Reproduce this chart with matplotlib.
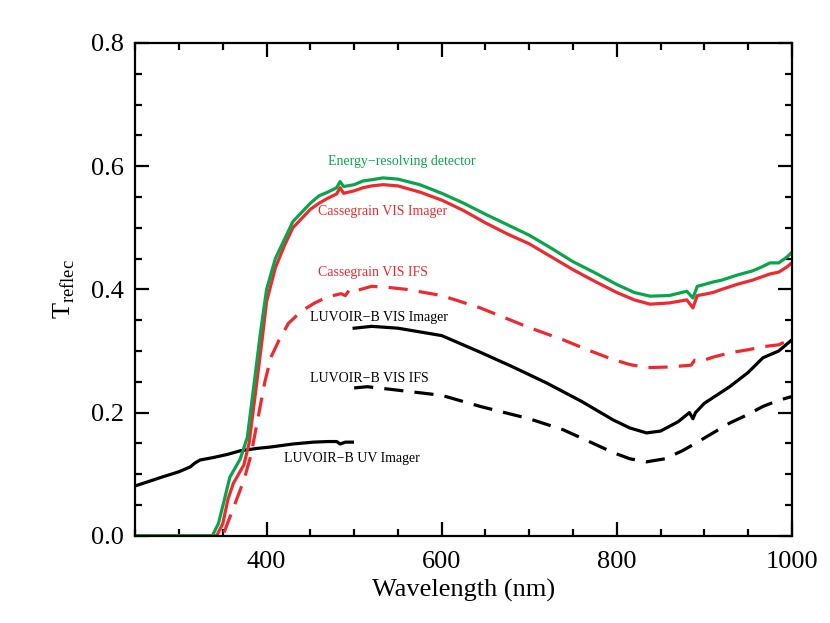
import numpy as np
import matplotlib
matplotlib.use("Agg")
import matplotlib.pyplot as plt
from matplotlib.ticker import MultipleLocator

# ==============Plotting settings==================
plt.rcParams['font.family'] = ['Liberation Serif', 'DejaVu Serif']
plt.rcParams['mathtext.fontset'] = 'custom'
plt.rcParams['mathtext.rm'] = 'Liberation Serif'
plt.rcParams['xtick.direction'] = 'in'
plt.rcParams['ytick.direction'] = 'in'
plt.rcParams['xtick.top'] = True
plt.rcParams['ytick.right'] = True
#===================================================

GREEN = '#0aa54b'
RED = '#ee2a2e'

# Energy-resolving detector
wl_green = [250, 300, 338, 345, 352, 358, 364, 370, 378, 386, 393, 400, 410, 420, 430, 440, 450,
            460, 470, 480, 484, 488, 500, 510, 520, 533, 550, 575, 600, 625, 650, 675, 700, 725,
            750, 775, 800, 820, 838, 860, 880, 887, 892, 900, 910, 920, 937, 955, 965, 975, 985,
            994, 1000]
t_green = [0, 0, 0, 0.02, 0.06, 0.095, 0.11, 0.125, 0.16, 0.25, 0.33, 0.40, 0.45, 0.48, 0.51,
           0.525, 0.54, 0.552, 0.558, 0.565, 0.575, 0.567, 0.57, 0.576, 0.578, 0.581, 0.579, 0.57,
           0.556, 0.54, 0.522, 0.505, 0.488, 0.467, 0.445, 0.427, 0.408, 0.395, 0.389, 0.39, 0.397,
           0.386, 0.405, 0.408, 0.412, 0.415, 0.423, 0.43, 0.436, 0.443, 0.443, 0.452, 0.46]

# Cassegrain VIS Imager
wl_cas_img = [250, 343, 350, 356, 362, 368, 374, 380, 388, 395, 400, 410, 420, 430, 440, 450, 460,
              470, 480, 484, 488, 500, 510, 520, 533, 550, 575, 600, 625, 650, 675, 700, 725, 750,
              775, 800, 820, 838, 860, 880, 887, 892, 900, 910, 920, 937, 955, 965, 975, 985, 994,
              1000]
t_cas_img = [0, 0, 0.02, 0.06, 0.085, 0.1, 0.115, 0.15, 0.24, 0.32, 0.38, 0.435, 0.47, 0.5, 0.515,
             0.53, 0.54, 0.548, 0.555, 0.565, 0.556, 0.56, 0.565, 0.568, 0.57, 0.568, 0.558, 0.545,
             0.528, 0.508, 0.49, 0.474, 0.453, 0.432, 0.413, 0.395, 0.383, 0.376, 0.378, 0.383,
             0.37, 0.39, 0.392, 0.395, 0.4, 0.408, 0.415, 0.42, 0.425, 0.428, 0.436, 0.443]

# Cassegrain VIS IFS
wl_cas_ifs = [250, 350, 358, 366, 374, 382, 390, 398, 405, 415, 425, 440, 455, 470, 485, 490, 495,
              500, 520, 540, 560, 600, 644, 700, 739, 770, 796, 815, 834, 860, 885, 889, 895, 910,
              929, 950, 967, 985, 1000]
t_cas_ifs = [0, 0, 0.03, 0.06, 0.09, 0.13, 0.19, 0.25, 0.29, 0.32, 0.345, 0.365, 0.378, 0.388,
             0.393, 0.39, 0.4, 0.397, 0.405, 0.403, 0.4, 0.39, 0.37, 0.338, 0.318, 0.3, 0.286,
             0.278, 0.273, 0.274, 0.277, 0.285, 0.283, 0.29, 0.297, 0.302, 0.307, 0.31, 0.32]

# LUVOIR-B VIS Imager
wl_luv_img = [500, 520, 550, 600, 644, 680, 720, 760, 796, 815, 834, 850, 870, 883, 887, 890, 900,
              929, 950, 967, 985, 1000]
t_luv_img = [0.337, 0.34, 0.337, 0.325, 0.298, 0.275, 0.248, 0.218, 0.188, 0.175, 0.167, 0.17,
             0.185, 0.2, 0.19, 0.2, 0.215, 0.242, 0.265, 0.289, 0.3, 0.318]

# LUVOIR-B VIS IFS
wl_luv_ifs = [500, 515, 540, 600, 644, 700, 739, 770, 796, 815, 834, 855, 875, 891, 910, 929, 950,
              967, 985, 1000]
t_luv_ifs = [0.24, 0.242, 0.238, 0.228, 0.21, 0.19, 0.172, 0.152, 0.135, 0.125, 0.12, 0.125,
             0.138, 0.151, 0.167, 0.183, 0.197, 0.21, 0.22, 0.226]

# LUVOIR-B UV Imager
wl_luv_uv = [250, 265, 282, 300, 313, 318, 324, 339, 355, 370, 390, 404, 430, 453, 470, 480, 484,
             490, 498]
t_luv_uv = [0.081, 0.088, 0.096, 0.104, 0.112, 0.118, 0.123, 0.127, 0.132, 0.138, 0.142, 0.144,
            0.149, 0.152, 0.153, 0.153, 0.149, 0.152, 0.152]

labels = ["Energy\u2212resolving detector", "Cassegrain VIS Imager", "Cassegrain VIS IFS",
          "LUVOIR\u2212B VIS Imager", "LUVOIR\u2212B VIS IFS", "LUVOIR\u2212B UV Imager"]
label_pos = [(554, 0.607), (533, 0.526), (522, 0.427), (528, 0.355), (517, 0.256), (497, 0.125)]
label_col = [GREEN, RED, RED, 'black', 'black', 'black']

fig = plt.figure(figsize=(8.3, 6.23), dpi=100)
ax = fig.add_axes([0.163, 0.140, 0.791, 0.791])

lw = 2.3
dash = (6, 3.5)
ax.plot(wl_luv_uv, t_luv_uv, color='black', lw=lw)
ax.plot(wl_luv_ifs, t_luv_ifs, color='black', lw=lw, dashes=dash)
ax.plot(wl_luv_img, t_luv_img, color='black', lw=lw)
ax.plot(wl_cas_ifs, t_cas_ifs, color=RED, lw=lw, dashes=dash)
ax.plot(wl_cas_img, t_cas_img, color=RED, lw=lw)
ax.plot(wl_green, t_green, color=GREEN, lw=lw)

for txt, (x, y), c in zip(labels, label_pos, label_col):
    ax.text(x, y, txt, color=c, fontsize=10, ha='center', va='center')

ax.set_xlim(250, 1000)
ax.set_ylim(0, 0.8)
ax.xaxis.set_major_locator(MultipleLocator(200))
ax.xaxis.set_minor_locator(MultipleLocator(50))
ax.yaxis.set_major_locator(MultipleLocator(0.2))
ax.yaxis.set_minor_locator(MultipleLocator(0.05))
ax.set_xticks([400, 600, 800, 1000])
ax.yaxis.set_major_formatter(plt.FormatStrFormatter('%.1f'))

ax.tick_params(which='major', length=10, width=1.6, labelsize=19)
ax.tick_params(axis='x', which='major', pad=11)
ax.tick_params(axis='y', which='major', pad=8)
ax.tick_params(which='minor', length=5, width=1.6)
for s in ax.spines.values():
    s.set_linewidth(1.6)

ax.set_xlabel('Wavelength (nm)', fontsize=19, labelpad=4)
ax.set_ylabel(r'T$_{\mathrm{reflec}}$', fontsize=19, labelpad=10)

fig.savefig('out.png', dpi=100)
